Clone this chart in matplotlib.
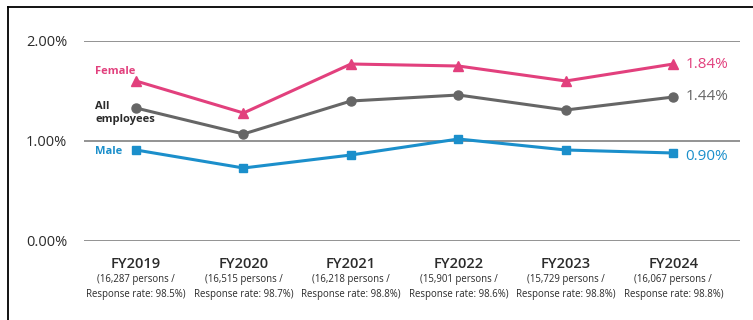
import matplotlib
matplotlib.use("Agg")
import matplotlib.pyplot as plt
from matplotlib.lines import Line2D

plt.rcParams['font.family'] = ['Open Sans', 'DejaVu Sans']

years = ['FY2019', 'FY2020', 'FY2021', 'FY2022', 'FY2023', 'FY2024']
sub_labels = ['(16,287 persons /\nResponse rate: 98.5%)',
              '(16,515 persons /\nResponse rate: 98.7%)',
              '(16,218 persons /\nResponse rate: 98.8%)',
              '(15,901 persons /\nResponse rate: 98.6%)',
              '(15,729 persons /\nResponse rate: 98.8%)',
              '(16,067 persons /\nResponse rate: 98.8%)']
female = [1.60, 1.28, 1.77, 1.75, 1.60, 1.77]
all_emp = [1.33, 1.07, 1.40, 1.46, 1.31, 1.44]
male = [0.91, 0.73, 0.86, 1.02, 0.91, 0.88]
end_labels = ['1.84%', '1.44%', '0.90%']
y_ticks = [0, 1, 2]
y_tick_labels = ['0.00%', '1.00%', '2.00%']

c_female = '#E2407D'
c_all = '#666666'
c_male = '#1B8FCB'

fig = plt.figure(figsize=(7.53, 3.20), dpi=100)
ax = fig.add_axes([84 / 753, 1 - 241 / 320, (740 - 84) / 753, 200 / 320])

x = list(range(len(years)))
ax.plot(x, female, color=c_female, lw=2.2, marker='^', ms=6.5, clip_on=False, zorder=3)
ax.plot(x, all_emp, color=c_all, lw=2.2, marker='o', ms=6.5, clip_on=False, zorder=3)
ax.plot(x, male, color=c_male, lw=2.2, marker='s', ms=5.5, clip_on=False, zorder=3)

for t in y_ticks:
    ax.axhline(t, color='#8a8a8a', lw=1.3, zorder=1)

ax.set_xlim(-0.484, 5.62)
ax.set_ylim(0, 2)
for s in ax.spines.values():
    s.set_visible(False)
ax.set_xticks([])
ax.set_yticks(y_ticks)
ax.set_yticklabels(y_tick_labels, fontsize=10.5, color='#2b2b2b')
ax.tick_params(axis='y', length=0, pad=12)

# year labels
for i in x:
    ax.text(i, -0.16, years[i], ha='center', va='top', fontsize=10.5,
            fontweight='semibold', color='#2b2b2b', clip_on=False)
    ax.text(i, -0.33, sub_labels[i], ha='center', va='top', fontsize=6.9,
            color='#2b2b2b', linespacing=1.45, clip_on=False)

# series names on the left
ax.text(-0.38, 1.69, 'Female', color=c_female, fontsize=8, fontweight='bold', va='center')
ax.text(-0.38, 1.28, 'All\nemployees', color='#2b2b2b', fontsize=8, fontweight='bold',
        va='center', linespacing=1.15)
ax.text(-0.38, 0.89, 'Male', color=c_male, fontsize=8, fontweight='bold', va='center')

# latest values on the right
ax.text(5.11, female[-1], end_labels[0], color=c_female, fontsize=11, va='center')
ax.text(5.11, all_emp[-1], end_labels[1], color=c_all, fontsize=11, va='center')
ax.text(5.11, male[-1] - 0.03, end_labels[2], color=c_male, fontsize=11, va='center')

# frame border at left and top
fig.add_artist(Line2D([8 / 753, 8 / 753], [0, 1 - 7 / 320], color='black', lw=1.3))
fig.add_artist(Line2D([8 / 753, 1], [1 - 7 / 320, 1 - 7 / 320], color='black', lw=1.3))

fig.savefig('out.png', dpi=100)
